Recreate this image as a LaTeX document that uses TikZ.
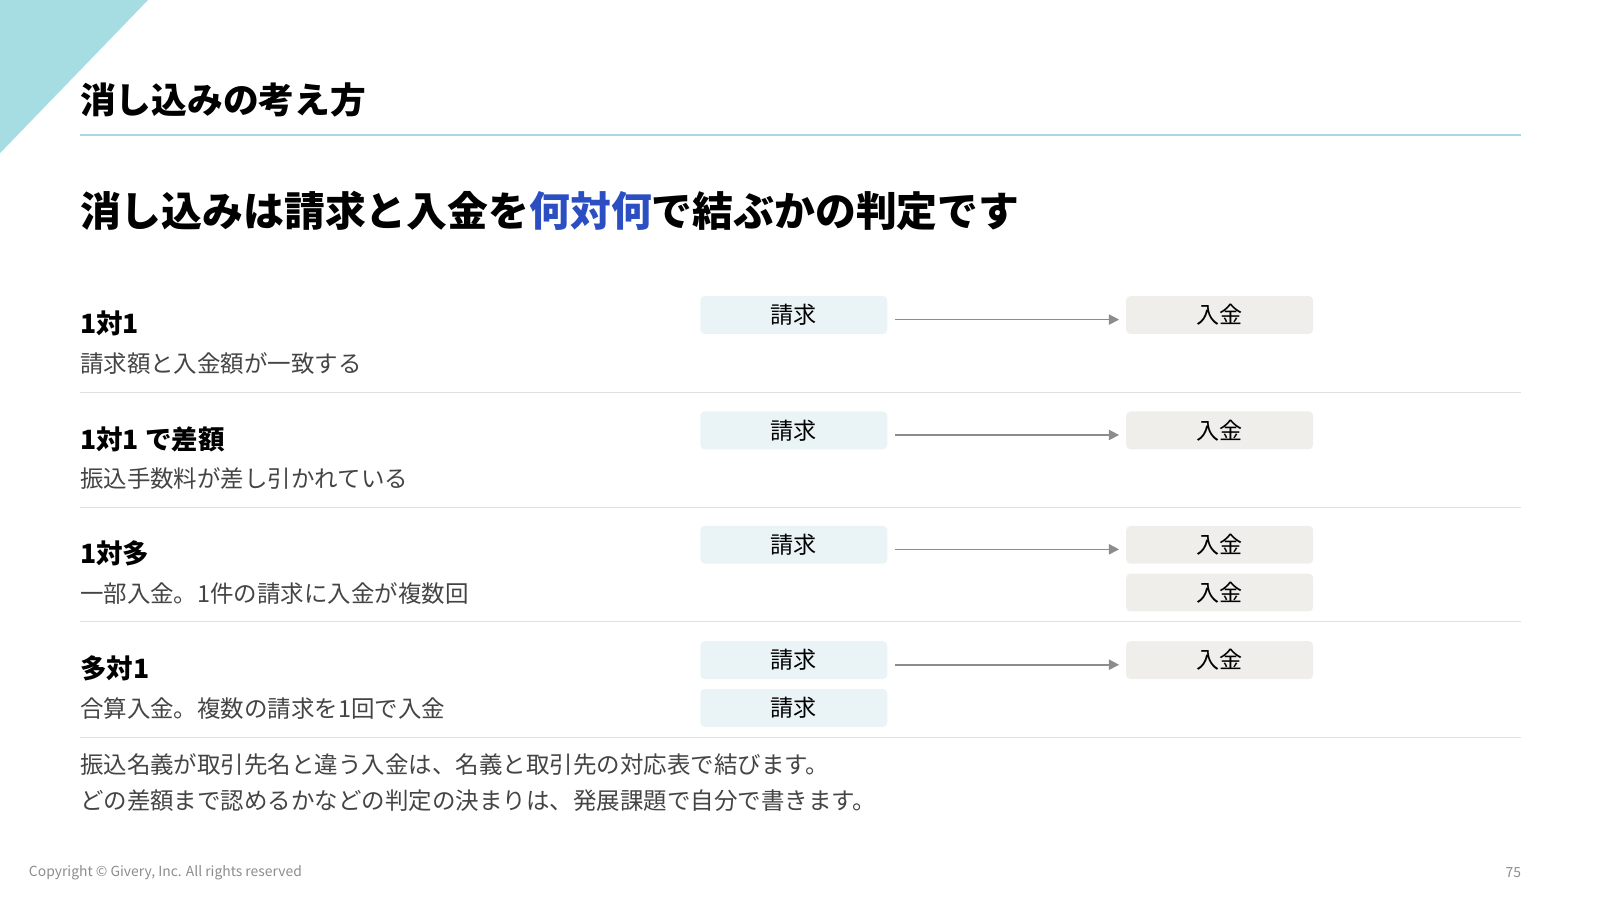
\documentclass[tikz,border=0pt]{standalone}
\usepackage{fontspec}
\setmainfont{Noto Sans CJK JP}
\usetikzlibrary{arrows.meta, positioning}
\definecolor{tealTri}{HTML}{A6DDE3}
\definecolor{ruleBlue}{HTML}{A9D8E4}
\definecolor{keyBlue}{HTML}{2B4FC2}
\definecolor{billFill}{HTML}{EAF4F6}
\definecolor{payFill}{HTML}{F0EEEB}
\definecolor{textGray}{HTML}{444444}

\begin{document}
\begin{tikzpicture}[
    x=0.5pt, y=-0.5pt,
    box/.style={rectangle, rounded corners=2pt, minimum width=91.5pt, minimum height=18.5pt, inner sep=0pt, font=\fontsize{11.3}{12}\selectfont},
    bill/.style={box, fill=billFill},
    pay/.style={box, fill=payFill},
    case/.style={anchor=west, inner sep=0pt, font=\bfseries\fontsize{13}{14}\selectfont},
    note/.style={anchor=west, inner sep=0pt, text=textGray, font=\fontsize{11.5}{12}\selectfont},
    sep/.style={draw=black!12, line width=0.5pt},
    arrow/.style={-{Triangle[length=5pt, width=5pt]}, draw=black!45, line width=0.8pt}
]
\useasboundingbox (0,0) rectangle (1567,882);
\fill[tealTri] (0,0) -- (145,0) -- (0,150) -- cycle;

\node[anchor=west, inner sep=0pt, font=\bfseries\fontsize{17.5}{18}\selectfont] (title) at (78,98) {消し込みの考え方};
\draw[ruleBlue, line width=1pt] (78,132) -- (1490,132);
\node[anchor=west, inner sep=0pt, font=\bfseries\fontsize{20}{22}\selectfont] (lead) at (78,207) {消し込みは請求と入金を\textcolor{keyBlue}{何対何}で結ぶかの判定です};

% rows
\foreach \y/\head/\sub [count=\i] in {
    0/1対1/請求額と入金額が一致する,
    113/1対1 で差額/振込手数料が差し引かれている,
    225/1対多/一部入金。1件の請求に入金が複数回,
    338/多対1/合算入金。複数の請求を1回で入金} {
  \node[case] (case\i) at (78,317+\y) {\head};
  \node[note] (note\i) at (78,356+\y) {\sub};
  \node[bill] (bill\i) at (777.5,308.5+\y) {請求};
  \node[pay] (pay\i) at (1194.5,308.5+\y) {入金};
  \coordinate (from\i) at (877,313+\y);
  \coordinate (to\i) at (1096,313+\y);
  \draw[arrow] (from\i) -- (to\i);
  \coordinate (sepL\i) at (78,384+\y);
  \coordinate (sepR\i) at (1490,384+\y);
  \draw[sep] (sepL\i) -- (sepR\i);
}
\node[pay, below=4.5pt of pay3] (pay3b) {入金};
\node[bill, below=4.5pt of bill4] (bill4b) {請求};

\node[note] (foot1) at (78,749) {振込名義が取引先名と違う入金は、名義と取引先の対応表で結びます。};
\node[note] (foot2) at (78,784) {どの差額まで認めるかなどの判定の決まりは、発展課題で自分で書きます。};

\node[anchor=west, inner sep=0pt, text=black!45, font=\fontsize{6.8}{7}\selectfont] (copy) at (28,855) {Copyright © Givery, Inc. All rights reserved};
\node[anchor=east, inner sep=0pt, text=black!45, font=\fontsize{6.8}{7}\selectfont] (page) at (1490,855) {75};
\end{tikzpicture}
\end{document}
